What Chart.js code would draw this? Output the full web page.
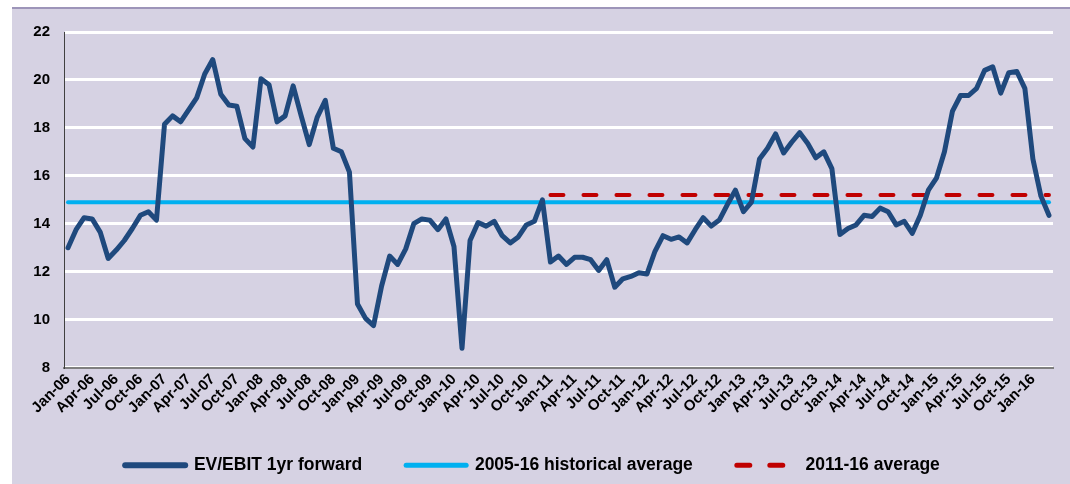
<!DOCTYPE html>
<html>
<head>
<meta charset="utf-8">
<title>EV/EBIT 1yr forward</title>
<script src="https://cdn.jsdelivr.net/npm/chart.js@4.4.1/dist/chart.umd.min.js"></script>
<style>
  html, body { margin: 0; padding: 0; background: #fff; }
  #wrap { width: 1070px; height: 484px; }
</style>
</head>
<body>
<div id="wrap"><canvas id="chart" width="1070" height="484"></canvas></div>
<script>
// monthly series, Jan-06 .. Mar-16
const firstYear = 2006;
const monthNames = ['Jan', 'Feb', 'Mar', 'Apr', 'May', 'Jun', 'Jul', 'Aug', 'Sep', 'Oct', 'Nov', 'Dec'];

const evEbit = [
  13.0, 13.75, 14.25, 14.2, 13.65, 12.55, 12.9, 13.3, 13.8, 14.35, 14.5, 14.15,   // 2006
  18.15, 18.5, 18.25, 18.75, 19.25, 20.25, 20.85, 19.4, 18.95, 18.9, 17.55, 17.2, // 2007
  20.05, 19.8, 18.25, 18.5, 19.75, 18.5, 17.3, 18.45, 19.15, 17.15, 17.0, 16.15,  // 2008
  10.65, 10.05, 9.75, 11.4, 12.65, 12.3, 12.95, 14.0, 14.2, 14.15, 13.75, 14.2,   // 2009
  13.05, 8.8, 13.3, 14.05, 13.9, 14.1, 13.5, 13.2, 13.45, 13.95, 14.1, 15.0,      // 2010
  12.4, 12.65, 12.3, 12.6, 12.6, 12.5, 12.05, 12.5, 11.35, 11.7, 11.8, 11.95,     // 2011
  11.9, 12.85, 13.5, 13.35, 13.45, 13.2, 13.75, 14.25, 13.9, 14.15, 14.8, 15.4,   // 2012
  14.5, 14.9, 16.7, 17.15, 17.75, 16.95, 17.4, 17.8, 17.35, 16.75, 17.0, 16.3,    // 2013
  13.55, 13.8, 13.95, 14.35, 14.3, 14.65, 14.5, 13.95, 14.1, 13.6, 14.35, 15.4,   // 2014
  15.9, 17.0, 18.7, 19.35, 19.35, 19.65, 20.4, 20.55, 19.45, 20.3, 20.35, 19.65,  // 2015
  16.7, 15.15, 14.35                                                               // 2016
];

const histAvg = 14.9;     // 2005-16 historical average
const recentAvg = 15.2;   // 2011-16 average
const recentFrom = 'Jan-11';

const yTicks = [8, 10, 12, 14, 16, 18, 20, 22];

const months = evEbit.map((v, i) =>
  monthNames[i % 12] + '-' + String((firstYear + Math.floor(i / 12)) % 100).padStart(2, '0'));
const recentStart = months.indexOf(recentFrom);
const histLine = evEbit.map(() => histAvg);
const recentLine = evEbit.map((v, i) => (i >= recentStart ? recentAvg : null));

const fontFamily = '"Liberation Sans", Arial, sans-serif';

// lavender panel with a thin rule along the top
const panelBg = {
  id: 'panelBg',
  beforeDraw(chart) {
    const ctx = chart.ctx;
    ctx.save();
    ctx.fillStyle = '#fff';
    ctx.fillRect(0, 0, chart.width, chart.height);
    ctx.fillStyle = '#D6D2E3';
    ctx.fillRect(12, 8, chart.width - 12, chart.height - 8);
    ctx.strokeStyle = '#9D95B9';
    ctx.lineWidth = 2;
    ctx.beginPath();
    ctx.moveTo(12, 8);
    ctx.lineTo(chart.width, 8);
    ctx.stroke();
    ctx.restore();
  }
};

new Chart(document.getElementById('chart'), {
  type: 'line',
  data: {
    labels: months,
    datasets: [
      {
        label: 'EV/EBIT 1yr forward',
        data: evEbit,
        borderColor: '#1F497D',
        borderWidth: 5,
        borderJoinStyle: 'round',
        borderCapStyle: 'round',
        pointRadius: 0,
        tension: 0
      },
      {
        label: '2005-16 historical average',
        data: histLine,
        borderColor: '#00B0F0',
        borderWidth: 4,
        borderCapStyle: 'round',
        pointRadius: 0
      },
      {
        label: '2011-16 average',
        data: recentLine,
        borderColor: '#C00000',
        borderWidth: 4,
        borderDash: [13, 20],
        borderCapStyle: 'round',
        pointRadius: 0
      }
    ]
  },
  options: {
    responsive: false,
    devicePixelRatio: 1,
    animation: false,
    events: [],
    layout: { padding: { left: 12, right: 17, top: 32, bottom: 0 } },
    scales: {
      x: {
        type: 'category',
        offset: true,
        grid: { display: false, drawTicks: false },
        border: { display: true, color: '#7F7F7F', width: 2 },
        ticks: {
          autoSkip: false,
          minRotation: 45,
          maxRotation: 45,
          padding: 3,
          color: '#000',
          font: { family: fontFamily, size: 15, weight: 'bold' },
          callback(value, index) {
            return index % 3 === 0 ? this.getLabelForValue(value) : '';
          }
        },
        afterFit(scale) { scale.height = 45; }
      },
      y: {
        min: yTicks[0],
        max: yTicks[yTicks.length - 1],
        afterBuildTicks(scale) { scale.ticks = yTicks.map(v => ({ value: v })); },
        grid: { color: '#FFFFFF', lineWidth: 3, drawTicks: false },
        border: { color: '#404040', width: 1 },
        ticks: {
          padding: 14,
          color: '#000',
          font: { family: fontFamily, size: 15, weight: 'bold' }
        },
        afterFit(scale) { scale.width = 52; }
      }
    },
    plugins: {
      tooltip: { enabled: false },
      legend: {
        position: 'bottom',
        labels: {
          usePointStyle: true,
          pointStyle: 'line',
          pointStyleWidth: 60,
          padding: 44,
          color: '#000',
          font: { family: fontFamily, size: 17.5, weight: 'bold' },
          generateLabels(chart) {
            return chart.data.datasets.map((ds, i) => ({
              text: ds.label,
              datasetIndex: i,
              hidden: false,
              fontColor: '#000',
              fillStyle: ds.borderColor,
              strokeStyle: ds.borderColor,
              lineWidth: ds.borderWidth + 1,
              lineDash: ds.borderDash || [],
              lineCap: 'round',
              pointStyle: 'line'
            }));
          }
        }
      }
    }
  },
  plugins: [panelBg]
});
</script>
</body>
</html>
